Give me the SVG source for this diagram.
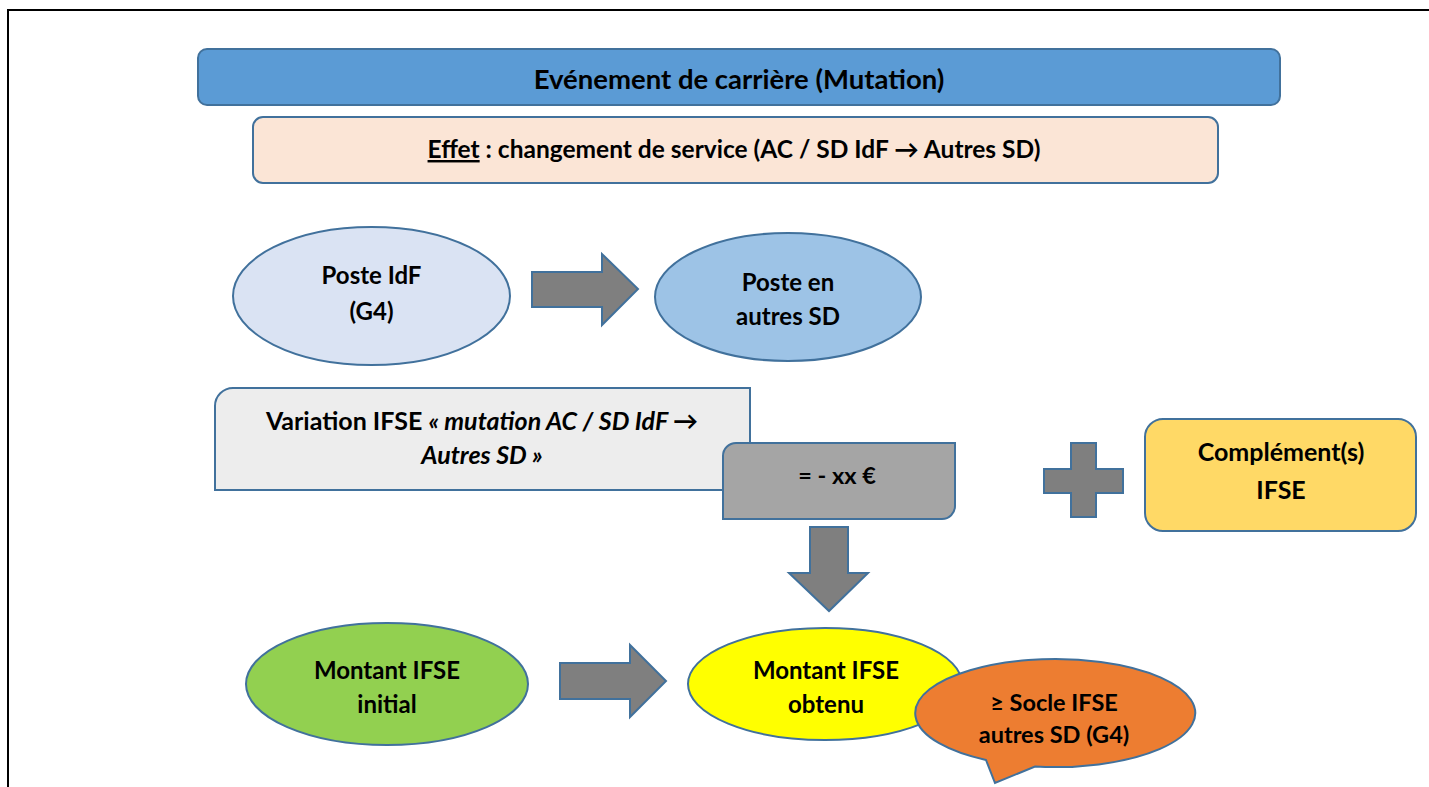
<svg xmlns="http://www.w3.org/2000/svg" width="1429" height="787" viewBox="0 0 1429 787">
<style>
.s{stroke:#41719C;stroke-width:2}
.t{font-family:Lato,"Liberation Sans",sans-serif;font-weight:700;fill:#000;text-anchor:middle}
.n{font-size:24px}
.ar{fill:#7F7F7F;stroke:#41719C;stroke-width:2;stroke-linejoin:miter}
</style>
<rect x="0" y="0" width="1429" height="787" fill="#fff"/>
<path d="M8,787 L8,10 L1429,10" fill="none" stroke="#000" stroke-width="2"/>

<g id="header">
<rect class="s" x="198" y="49" width="1082" height="56" rx="9" fill="#5B9BD5"/>
<text class="t" x="739" y="89" font-size="27.5">Evénement de carrière (Mutation)</text>
</g>
<g id="effet">
<rect class="s" x="253" y="117" width="965" height="66" rx="10" fill="#FBE5D6"/>
<text class="t" x="734" y="158" font-size="24.5"><tspan text-decoration="underline">Effet</tspan> : changement de service (AC / SD IdF → Autres SD)</text>
</g>
<g id="poste-idf">
<ellipse class="s" cx="371.5" cy="296" rx="138.5" ry="69" fill="#DAE3F3"/>
<text class="t n" x="371.5" y="284">Poste IdF</text>
<text class="t n" x="371.5" y="320">(G4)</text>
</g>
<g id="poste-autres">
<ellipse class="s" cx="788" cy="297" rx="133" ry="64" fill="#9DC3E6"/>
<text class="t n" x="788" y="291">Poste en</text>
<text class="t n" x="788" y="325">autres SD</text>
</g>
<g id="variation">
<path class="s" d="M215,406 A18,18 0 0 1 233,388 L750,388 L750,490 L215,490 Z" fill="#EDEDED"/>
<text class="t" x="482" y="430" font-size="25">Variation IFSE <tspan font-style="italic">« mutation AC / SD IdF →</tspan></text>
<text class="t" x="482" y="464" font-size="25" font-style="italic">Autres SD »</text>
</g>
<g id="montant-variation">
<path class="s" d="M723,456 A13,13 0 0 1 736,443 L955,443 L955,506 A13,13 0 0 1 942,519 L723,519 Z" fill="#A5A5A5"/>
<text class="t" x="837" y="484" font-size="23.5">= - xx €</text>
</g>
<g id="plus">
<path class="ar" d="M1071,443 L1096,443 L1096,469 L1123,469 L1123,493 L1096,493 L1096,517 L1071,517 L1071,493 L1044,493 L1044,469 L1071,469 Z"/>
</g>
<g id="complement">
<rect class="s" x="1145" y="419" width="271" height="112" rx="18" fill="#FFD966"/>
<text class="t" x="1281" y="461" font-size="25">Complément(s)</text>
<text class="t" x="1281" y="499" font-size="25">IFSE</text>
</g>
<g id="montant-initial">
<ellipse class="s" cx="387" cy="684" rx="141" ry="61" fill="#92D050"/>
<text class="t n" x="387" y="679">Montant IFSE</text>
<text class="t n" x="387" y="713">initial</text>
</g>
<g id="montant-obtenu">
<ellipse class="s" cx="825" cy="684" rx="137" ry="56" fill="#FFFF00"/>
<text class="t n" x="826" y="679">Montant IFSE</text>
<text class="t n" x="826" y="713">obtenu</text>
</g>
<g id="socle">
<path class="s" d="M986,760 A140,54 0 1 1 1035,766.5 L995,783 Z" fill="#ED7D31" stroke-linejoin="miter"/>
<text class="t" x="1054" y="711" font-size="23.5">≥ Socle IFSE</text>
<text class="t" x="1054" y="743" font-size="23.5">autres SD (G4)</text>
</g>
<g id="connectors">
<path class="ar" d="M532,272 L602,272 L602,254 L638,289 L602,325 L602,307 L532,307 Z"/>
<path class="ar" d="M810,527 L848,527 L848,573 L868,573 L829,611 L789,573 L810,573 Z"/>
<path class="ar" d="M560,663 L630,663 L630,645 L666,681 L630,717 L630,699 L560,699 Z"/>
</g>
</svg>
